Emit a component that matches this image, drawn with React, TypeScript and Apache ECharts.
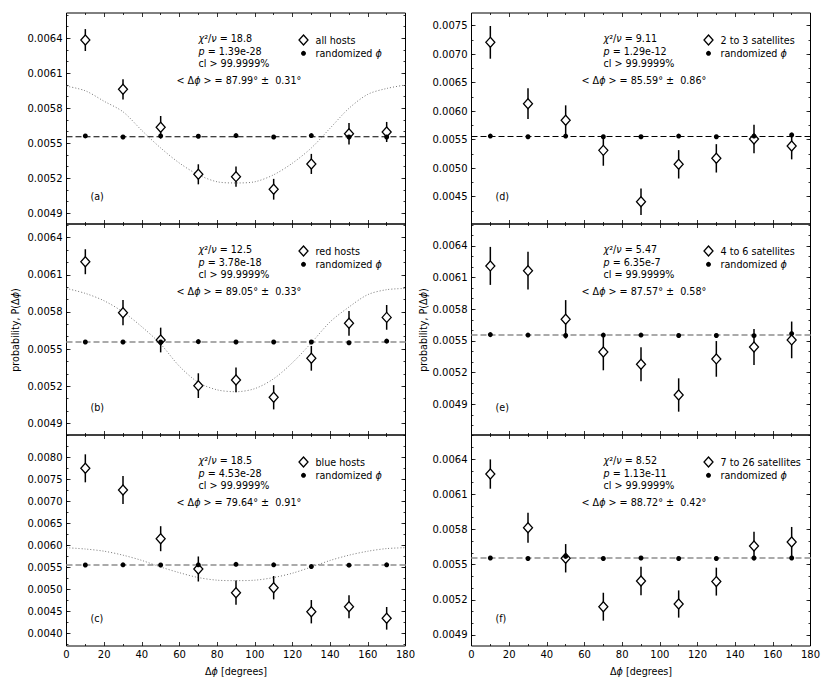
import React, { useEffect, useRef } from 'react';
import * as echarts from 'echarts';

const FONT = "'DejaVu Sans', sans-serif";

// bin centres (degrees)
const PHI = [10, 30, 50, 70, 90, 110, 130, 150, 170];
// abscissae at which the dotted model curve was read
const CURVE_PHI = [0, 10, 20, 30, 40, 50, 60, 70, 80, 90, 100, 110, 120, 130, 140, 150, 160, 170, 180];
const UNIFORM = 0.005556;

// (a) all hosts
const A_OBS = [0.006385, 0.005963, 0.005637, 0.005234, 0.005214, 0.005106, 0.005323, 0.005582, 0.005597];
const A_ERR = [0.000094, 0.000087, 0.000097, 0.000086, 0.000086, 0.000089, 0.000086, 0.000092, 0.000086];
const A_RAND = [0.005563, 0.005554, 0.005563, 0.00556, 0.005566, 0.005554, 0.005566, 0.005554, 0.005554];
const A_CURVE = [0.00599, 0.00595, 0.00586, 0.00577, 0.00561, 0.00546, 0.00533, 0.00523, 0.00517, 0.00516, 0.00517, 0.00523, 0.00533, 0.00546, 0.00563, 0.0058, 0.00592, 0.00597, 0.006];
// (b) red hosts
const B_OBS = [0.006206, 0.005794, 0.005573, 0.005204, 0.00525, 0.00511, 0.005425, 0.005708, 0.005756];
const B_ERR = [0.000101, 0.000102, 0.0001, 0.0001, 0.0001, 0.000098, 0.0001, 0.0001, 0.0001];
const B_RAND = [0.005557, 0.005557, 0.005557, 0.00556, 0.005557, 0.005557, 0.005557, 0.005551, 0.005564];
const B_CURVE = [0.00599, 0.00595, 0.00589, 0.0058, 0.00568, 0.00554, 0.00536, 0.00523, 0.00517, 0.005155, 0.00518, 0.00526, 0.00539, 0.00555, 0.00572, 0.00584, 0.00594, 0.00598, 0.00599];
// (c) blue hosts
const C_OBS = [0.007758, 0.007264, 0.006155, 0.005465, 0.004925, 0.005039, 0.004492, 0.004606, 0.004342];
const C_ERR = [0.000319, 0.000319, 0.000285, 0.000285, 0.000277, 0.000266, 0.000266, 0.000262, 0.000258];
const C_RAND = [0.005556, 0.00556, 0.005556, 0.00556, 0.005572, 0.00556, 0.00552, 0.005552, 0.00556];
const C_CURVE = [0.00595, 0.00592, 0.00587, 0.00578, 0.00566, 0.00551, 0.00538, 0.00527, 0.00521, 0.0052, 0.00521, 0.00527, 0.00537, 0.00551, 0.00566, 0.00578, 0.00587, 0.00593, 0.00595];
// (d) 2 to 3 satellites
const D_OBS = [0.007208, 0.006132, 0.00584, 0.005313, 0.004412, 0.005068, 0.005173, 0.005512, 0.005389];
const D_ERR = [0.000287, 0.00027, 0.000263, 0.00027, 0.000234, 0.000249, 0.000249, 0.000249, 0.000234];
const D_RAND = [0.005564, 0.005552, 0.005564, 0.005552, 0.005552, 0.005564, 0.005552, 0.005564, 0.005582];
// (e) 4 to 6 satellites
const E_OBS = [0.006211, 0.006166, 0.005705, 0.005396, 0.005279, 0.004988, 0.00533, 0.005443, 0.00551];
const E_ERR = [0.00018, 0.000178, 0.000182, 0.000174, 0.000161, 0.000158, 0.000169, 0.000171, 0.000174];
const E_RAND = [0.00556, 0.005556, 0.005552, 0.005556, 0.005556, 0.005552, 0.005552, 0.00555, 0.00557];
// (f) 7 to 26 satellites
const F_OBS = [0.006272, 0.005815, 0.005554, 0.005141, 0.00536, 0.005164, 0.005355, 0.005659, 0.005693];
const F_ERR = [0.000125, 0.000128, 0.000121, 0.000119, 0.000121, 0.000116, 0.000119, 0.000121, 0.000128];
const F_RAND = [0.005556, 0.005552, 0.00557, 0.005552, 0.005556, 0.005552, 0.005552, 0.005556, 0.005556];

// tick labels
const X_TICKS = [0, 20, 40, 60, 80, 100, 120, 140, 160, 180];
const Y_TICKS_3 = [0.0049, 0.0052, 0.0055, 0.0058, 0.0061, 0.0064];
const Y_TICKS_C = [0.004, 0.0045, 0.005, 0.0055, 0.006, 0.0065, 0.007, 0.0075, 0.008];
const Y_TICKS_D = [0.0045, 0.005, 0.0055, 0.006, 0.0065, 0.007, 0.0075];

type Panel = {
  tag: string; name: string;
  obs: number[]; err: number[]; rand: number[]; curve: number[] | null;
  chi: string; p: string; clOp: string; mean: string; sd: string;
  yMin: number; yMax: number; yTicks: number[]; minorStep: number;
  dashColor: string; dashWidth: number; col: number; row: number;
};

const PANELS: Panel[] = [
  { tag: '(a)', name: 'all hosts', obs: A_OBS, err: A_ERR, rand: A_RAND, curve: A_CURVE, chi: '18.8', p: '1.39e-28', clOp: '>', mean: '87.99', sd: '0.31', yMin: 0.004808, yMax: 0.006617, yTicks: Y_TICKS_3, minorStep: 0.0001, dashColor: '#000', dashWidth: 1, col: 0, row: 0 },
  { tag: '(b)', name: 'red hosts', obs: B_OBS, err: B_ERR, rand: B_RAND, curve: B_CURVE, chi: '12.5', p: '3.78e-18', clOp: '>', mean: '89.05', sd: '0.33', yMin: 0.004805, yMax: 0.006511, yTicks: Y_TICKS_3, minorStep: 0.0001, dashColor: '#aaa', dashWidth: 2, col: 0, row: 1 },
  { tag: '(c)', name: 'blue hosts', obs: C_OBS, err: C_ERR, rand: C_RAND, curve: C_CURVE, chi: '18.5', p: '4.53e-28', clOp: '>', mean: '79.64', sd: '0.91', yMin: 0.003711, yMax: 0.008517, yTicks: Y_TICKS_C, minorStep: 0.00025, dashColor: '#aaa', dashWidth: 2, col: 0, row: 2 },
  { tag: '(d)', name: '2 to 3 satellites', obs: D_OBS, err: D_ERR, rand: D_RAND, curve: null, chi: '9.11', p: '1.29e-12', clOp: '>', mean: '85.59', sd: '0.86', yMin: 0.004021, yMax: 0.007723, yTicks: Y_TICKS_D, minorStep: 0.00025, dashColor: '#000', dashWidth: 1, col: 1, row: 0 },
  { tag: '(e)', name: '4 to 6 satellites', obs: E_OBS, err: E_ERR, rand: E_RAND, curve: null, chi: '5.47', p: '6.35e-7', clOp: '=', mean: '87.57', sd: '0.58', yMin: 0.004609, yMax: 0.006608, yTicks: Y_TICKS_3, minorStep: 0.0001, dashColor: '#aaa', dashWidth: 2, col: 1, row: 1 },
  { tag: '(f)', name: '7 to 26 satellites', obs: F_OBS, err: F_ERR, rand: F_RAND, curve: null, chi: '8.52', p: '1.13e-11', clOp: '>', mean: '88.72', sd: '0.42', yMin: 0.004806, yMax: 0.006605, yTicks: Y_TICKS_3, minorStep: 0.0001, dashColor: '#aaa', dashWidth: 2, col: 1, row: 2 },
];

const COL_LEFT = [66.5, 471.5];
const COL_W = 339;
const ROW_TOP = [13, 224, 435];
const ROW_H = 211;

function minorTicks(min: number, max: number, step: number): number[] {
  const out: number[] = [];
  for (let k = Math.ceil(min / step - 1e-9); k * step <= max + 1e-12; k++) out.push(+(k * step).toFixed(7));
  return out;
}

const RICH_FS = 9.6;
const rich = {
  i: { fontStyle: 'italic', fontSize: RICH_FS, fontFamily: FONT, fill: '#000', color: '#000' },
  n: { fontSize: RICH_FS, fontFamily: FONT, fill: '#000', color: '#000' },
};

function txt(x: number, y: number, text: string, extra: any = {}) {
  return {
    type: 'text', x, y, silent: true,
    style: {
      text, fontSize: RICH_FS, fontFamily: FONT, fill: '#000',
      align: 'left', verticalAlign: 'middle', textAlign: 'left', textVerticalAlign: 'middle', rich,
      ...extra,
    },
  };
}

function buildOption() {
  const grid: any[] = [];
  const xAxis: any[] = [];
  const yAxis: any[] = [];
  const series: any[] = [];
  const graphic: any[] = [];
  const tickLine = { color: '#000', width: 0.8 };
  const labelStyle = { fontSize: 10, fontFamily: FONT, color: '#000' };

  PANELS.forEach((pn, i) => {
    const left = COL_LEFT[pn.col];
    const top = ROW_TOP[pn.row];
    grid.push({ left, top, width: COL_W, height: ROW_H, show: true, borderColor: '#000', borderWidth: 1, backgroundColor: 'transparent' });
    const bottomRow = pn.row === 2;
    ['bottom', 'top'].forEach((pos) => {
      xAxis.push({
        gridIndex: i, type: 'value', position: pos, min: X_TICKS[0], max: X_TICKS[X_TICKS.length - 1], interval: X_TICKS[1] - X_TICKS[0],
        axisLine: { show: false },
        axisTick: { show: true, inside: true, length: 4, lineStyle: tickLine },
        minorTick: { show: true, splitNumber: 2, length: 2, lineStyle: tickLine },
        splitLine: { show: false }, minorSplitLine: { show: false },
        axisLabel: { show: pos === 'bottom' && bottomRow, margin: 3, ...labelStyle },
        name: pos === 'bottom' && bottomRow ? 'Δ{i|ϕ} [degrees]' : '',
        nameLocation: 'middle', nameGap: 20,
        nameTextStyle: { fontSize: RICH_FS, fontFamily: FONT, color: '#000', rich: { i: { fontStyle: 'italic', fontSize: RICH_FS, fontFamily: FONT, color: '#000' } } },
      });
    });
    const minors = minorTicks(pn.yMin, pn.yMax, pn.minorStep);
    ['left', 'right'].forEach((pos) => {
      yAxis.push({
        gridIndex: i, type: 'value', position: pos, min: pn.yMin, max: pn.yMax,
        axisLine: { show: false }, splitLine: { show: false },
        axisTick: { show: true, inside: true, length: 4, customValues: pn.yTicks, lineStyle: tickLine },
        axisLabel: { show: pos === 'left', customValues: pn.yTicks, margin: 4, formatter: (v: number) => v.toFixed(4), ...labelStyle },
      });
      yAxis.push({
        gridIndex: i, type: 'value', position: pos, min: pn.yMin, max: pn.yMax,
        axisLine: { show: false }, splitLine: { show: false },
        axisTick: { show: true, inside: true, length: 2, customValues: minors, lineStyle: tickLine },
        axisLabel: { show: false },
      });
    });
    const xi = i * 2;
    const yi = i * 4;
    series.push({
      type: 'line', xAxisIndex: xi, yAxisIndex: yi, silent: true, symbol: 'none', z: 1,
      data: [[X_TICKS[0], UNIFORM], [X_TICKS[X_TICKS.length - 1], UNIFORM]],
      lineStyle: { color: pn.dashColor, width: pn.dashWidth, type: [6, 3] },
    });
    if (pn.curve) {
      series.push({
        type: 'line', xAxisIndex: xi, yAxisIndex: yi, silent: true, symbol: 'none', z: 2, smooth: 0.3,
        data: CURVE_PHI.map((x, j) => [x, pn.curve![j]]),
        lineStyle: { color: '#777', width: 1, type: [1, 2] },
      });
    }
    series.push({
      type: 'custom', coordinateSystem: 'cartesian2d', xAxisIndex: xi, yAxisIndex: yi, z: 3, silent: true,
      data: PHI.map((x, j) => [x, pn.obs[j], pn.err[j]]),
      encode: { x: 0, y: 1 },
      renderItem: (params: any, api: any) => {
        const x = api.value(0), y = api.value(1), e = api.value(2);
        const p1 = api.coord([x, y - e]);
        const p2 = api.coord([x, y + e]);
        return { type: 'line', shape: { x1: p1[0], y1: p1[1], x2: p2[0], y2: p2[1] }, style: { stroke: '#000', lineWidth: 1.5 } };
      },
    });
    series.push({
      type: 'scatter', name: pn.name, xAxisIndex: xi, yAxisIndex: yi, z: 10,
      data: PHI.map((x, j) => [x, pn.obs[j]]),
      symbol: 'diamond', symbolSize: [9, 10],
      itemStyle: { color: '#fff', borderColor: '#000', borderWidth: 1.3, opacity: 1 },
      emphasis: { disabled: true },
    });
    series.push({
      type: 'scatter', name: 'randomized ϕ', xAxisIndex: xi, yAxisIndex: yi, z: 11,
      data: PHI.map((x, j) => [x, pn.rand[j]]),
      symbol: 'circle', symbolSize: 5,
      itemStyle: { color: '#000', opacity: 1 },
      emphasis: { disabled: true },
    });

    // annotations
    graphic.push(txt(left + 132, top + 25.3, '{i|χ}²/{i|ν} = ' + pn.chi));
    graphic.push(txt(left + 132, top + 38.7, '{i|p} = ' + pn.p));
    graphic.push(txt(left + 132, top + 50.3, 'cl ' + pn.clOp + ' 99.9999%'));
    graphic.push(txt(left + 110, top + 67.7, '< Δ{i|ϕ} > = ' + pn.mean + '° ±  ' + pn.sd + '°'));
    // legend
    const mx = left + 237;
    const ly1 = top + 27;
    const ly2 = top + 40.3;
    graphic.push({ type: 'polygon', silent: true, shape: { points: [[mx, ly1 - 5], [mx + 4.5, ly1], [mx, ly1 + 5], [mx - 4.5, ly1]] }, style: { fill: '#fff', stroke: '#000', lineWidth: 1.3 } });
    graphic.push({ type: 'circle', silent: true, shape: { cx: mx, cy: ly2, r: 2.5 }, style: { fill: '#000' } });
    graphic.push(txt(left + 249, ly1, pn.name));
    graphic.push(txt(left + 249, ly2, 'randomized {i|ϕ}'));
    graphic.push(txt(left + 24, top + 183.7, pn.tag));
  });

  // y axis titles
  [15, 423].forEach((x) => {
    graphic.push({
      type: 'text', x, y: 330, rotation: Math.PI / 2, silent: true,
      style: { text: 'probability, P(Δ{i|ϕ})', fontSize: RICH_FS, fontFamily: FONT, fill: '#000', align: 'center', verticalAlign: 'middle', textAlign: 'center', textVerticalAlign: 'middle', rich },
    });
  });

  return { animation: false, backgroundColor: '#fff', grid, xAxis, yAxis, series, graphic };
}

export default function App() {
  const ref = useRef<HTMLDivElement>(null);
  useEffect(() => {
    if (!ref.current) return;
    const chart = echarts.init(ref.current, null, { renderer: 'svg' });
    chart.setOption(buildOption() as any);
    return () => chart.dispose();
  }, []);
  return <div ref={ref} style={{ position: 'absolute', left: 0, top: 0, width: 830, height: 692 }} />;
}
